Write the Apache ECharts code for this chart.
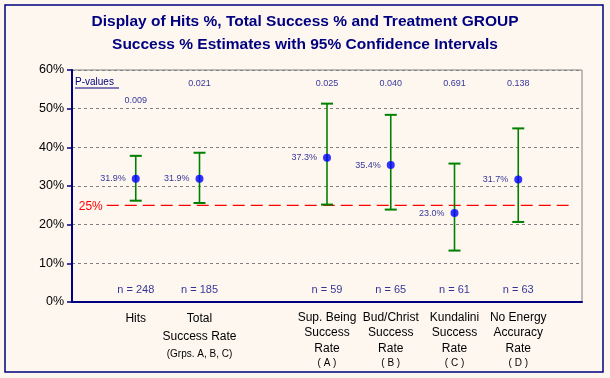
<!DOCTYPE html>
<html>
<head>
<meta charset="utf-8">
<script src="https://cdn.jsdelivr.net/npm/echarts@6/dist/echarts.min.js"></script>
<style>
html,body{margin:0;padding:0;background:#FDF7F0;}
#c{width:610px;height:378px;}
</style>
</head>
<body>
<div id="c"></div>
<script>
// ---- data ----
const categories = ['', 'Hits', 'Total Success Rate', '', 'Sup. Being Success Rate', 'Bud/Christ Success Rate', 'Kundalini Success Rate', 'No Energy Accuracy Rate', ''];
const labelMain = [[], ['Hits'], ['Total', 'Success Rate'], [], ['Sup. Being', 'Success', 'Rate'], ['Bud/Christ', 'Success', 'Rate'], ['Kundalini', 'Success', 'Rate'], ['No Energy', 'Accuracy', 'Rate'], []];
const labelSub = ['', '', '(Grps. A, B, C)', '', '( A )', '( B )', '( C )', '( D )', ''];
const estimates = [null, 31.9, 31.9, null, 37.3, 35.4, 23.0, 31.7, null];
const lowerCI = [null, 26.2, 25.6, null, 25.2, 23.9, 13.3, 20.7, null];
const upperCI = [null, 37.8, 38.6, null, 51.3, 48.4, 35.8, 44.9, null];
const pValues = ['', '0.009', '0.021', '', '0.025', '0.040', '0.691', '0.138', ''];
const nCounts = ['', 248, 185, '', 59, 65, 61, 63, ''];
const chanceLevel = 25;
const yTicks = [0, 10, 20, 30, 40, 50, 60];

const NAVY = '#000080';
const FONT = '"Liberation Sans", Arial, sans-serif';

const idxs = categories.map((c, i) => i).filter(i => estimates[i] !== null);

const chart = echarts.init(document.getElementById('c'), null, {renderer: 'canvas'});

const option = {
  backgroundColor: '#FDF7F0',
  animation: false,
  title: {
    text: 'Display of Hits %, Total Success % and Treatment GROUP\nSuccess % Estimates with 95% Confidence Intervals',
    left: 'center',
    top: 5,
    textStyle: {color: NAVY, fontSize: 15.5, fontWeight: 'bold', fontFamily: FONT, lineHeight: 23}
  },
  grid: {left: 72, right: 28, top: 70, bottom: 76, show: true, borderColor: '#808080', borderWidth: 1, backgroundColor: 'transparent'},
  xAxis: {
    type: 'category',
    data: categories,
    boundaryGap: false,
    axisLine: {lineStyle: {color: NAVY, width: 2}},
    axisTick: {show: false},
    splitLine: {show: false},
    axisLabel: {
      interval: 0,
      margin: 8,
      verticalAlign: 'top',
      formatter: function (v, i) {
        const main = labelMain[i] || [];
        if (!main.length) return '';
        const wide = i <= 2;
        const k = wide ? 'a' : 'c';
        let s = main.map(t => '{' + k + '|' + t + '}').join('\n');
        if (labelSub[i]) s += '\n{' + (wide ? 'b' : 'd') + '|' + labelSub[i] + '}';
        return s;
      },
      rich: {
        a: {fontSize: 12, lineHeight: 17.5, color: '#000', fontFamily: FONT},
        b: {fontSize: 10, lineHeight: 17.5, color: '#000', fontFamily: FONT},
        c: {fontSize: 12, lineHeight: 15.3, color: '#000', fontFamily: FONT},
        d: {fontSize: 10, lineHeight: 15.3, color: '#000', fontFamily: FONT}
      }
    }
  },
  yAxis: {
    type: 'value',
    min: yTicks[0],
    max: yTicks[yTicks.length - 1],
    interval: 10,
    axisLine: {show: true, lineStyle: {color: NAVY, width: 2}},
    axisTick: {show: true, inside: false, length: 5, lineStyle: {color: NAVY, width: 1.5}},
    axisLabel: {color: '#000', fontSize: 12.5, fontFamily: FONT, margin: 8, formatter: '{value}%'},
    splitLine: {show: true, lineStyle: {color: '#808080', type: [3, 3], width: 1}}
  },
  graphic: [
    {type: 'rect', shape: {x: 5, y: 5, width: 598, height: 367}, style: {fill: 'none', stroke: NAVY, lineWidth: 1.5}, z: 100},
    {type: 'text', left: 75, top: 77, style: {text: 'P-values', fill: NAVY, fontSize: 10, fontFamily: FONT}, z: 100},
    {type: 'line', shape: {x1: 75, y1: 88, x2: 119, y2: 88}, style: {stroke: NAVY, lineWidth: 1}, z: 100}
  ],
  series: [
    {
      type: 'custom',
      name: 'chance',
      data: [[0, chanceLevel]],
      z: 3,
      renderItem: function (params, api) {
        const base = api.coord([0, api.value(1)]);
        const band = api.size([1, 0])[0];
        const x1 = base[0] + 0.545 * band;
        const x2 = base[0] + 7.79 * band;
        return {
          type: 'group',
          children: [
            {type: 'line', shape: {x1: x1, y1: base[1], x2: x2, y2: base[1]}, style: {stroke: '#FF0000', lineWidth: 1.2, lineDash: [12, 6]}},
            {type: 'text', style: {text: api.value(1) + '%', x: x1 - 4, y: base[1] + 1, align: 'right', verticalAlign: 'middle', fill: '#FF0000', fontSize: 12, fontFamily: FONT}}
          ]
        };
      }
    },
    {
      type: 'custom',
      name: 'CI',
      data: idxs.map(i => [i, lowerCI[i], upperCI[i]]),
      z: 4,
      renderItem: function (params, api) {
        const lo = api.coord([api.value(0), api.value(1)]);
        const hi = api.coord([api.value(0), api.value(2)]);
        const hw = 6;
        const st = {stroke: '#008000', lineWidth: 2};
        return {
          type: 'group',
          children: [
            {type: 'line', shape: {x1: lo[0], y1: lo[1], x2: hi[0], y2: hi[1]}, style: {stroke: '#008000', lineWidth: 1.6}},
            {type: 'line', shape: {x1: lo[0] - hw, y1: lo[1], x2: lo[0] + hw, y2: lo[1]}, style: st},
            {type: 'line', shape: {x1: hi[0] - hw, y1: hi[1], x2: hi[0] + hw, y2: hi[1]}, style: st}
          ]
        };
      }
    },
    {
      type: 'scatter',
      name: 'Estimate',
      data: idxs.map(i => [i, estimates[i]]),
      symbol: 'circle',
      symbolSize: 8,
      z: 5,
      itemStyle: {color: '#0000FF'},
      label: {
        show: true, position: 'left', distance: 6,
        color: NAVY, fontSize: 9, fontFamily: FONT,
        formatter: p => p.value[1].toFixed(1) + '%'
      }
    },
    {
      type: 'scatter',
      name: 'n',
      data: idxs.map(i => ({value: [i, 3.2], n: nCounts[i]})),
      symbolSize: 0,
      silent: true,
      label: {
        show: true, position: 'inside', color: NAVY, fontSize: 11, fontFamily: FONT,
        formatter: p => 'n = ' + nCounts[p.value[0]]
      }
    },
    {
      type: 'scatter',
      name: 'p',
      data: idxs.map(i => [i, i === 1 ? 52.1 : 56.6]),
      symbolSize: 0,
      silent: true,
      label: {
        show: true, position: 'inside', color: NAVY, fontSize: 9, fontFamily: FONT,
        formatter: p => pValues[p.value[0]]
      }
    }
  ]
};
chart.setOption(option);
</script>
</body>
</html>
